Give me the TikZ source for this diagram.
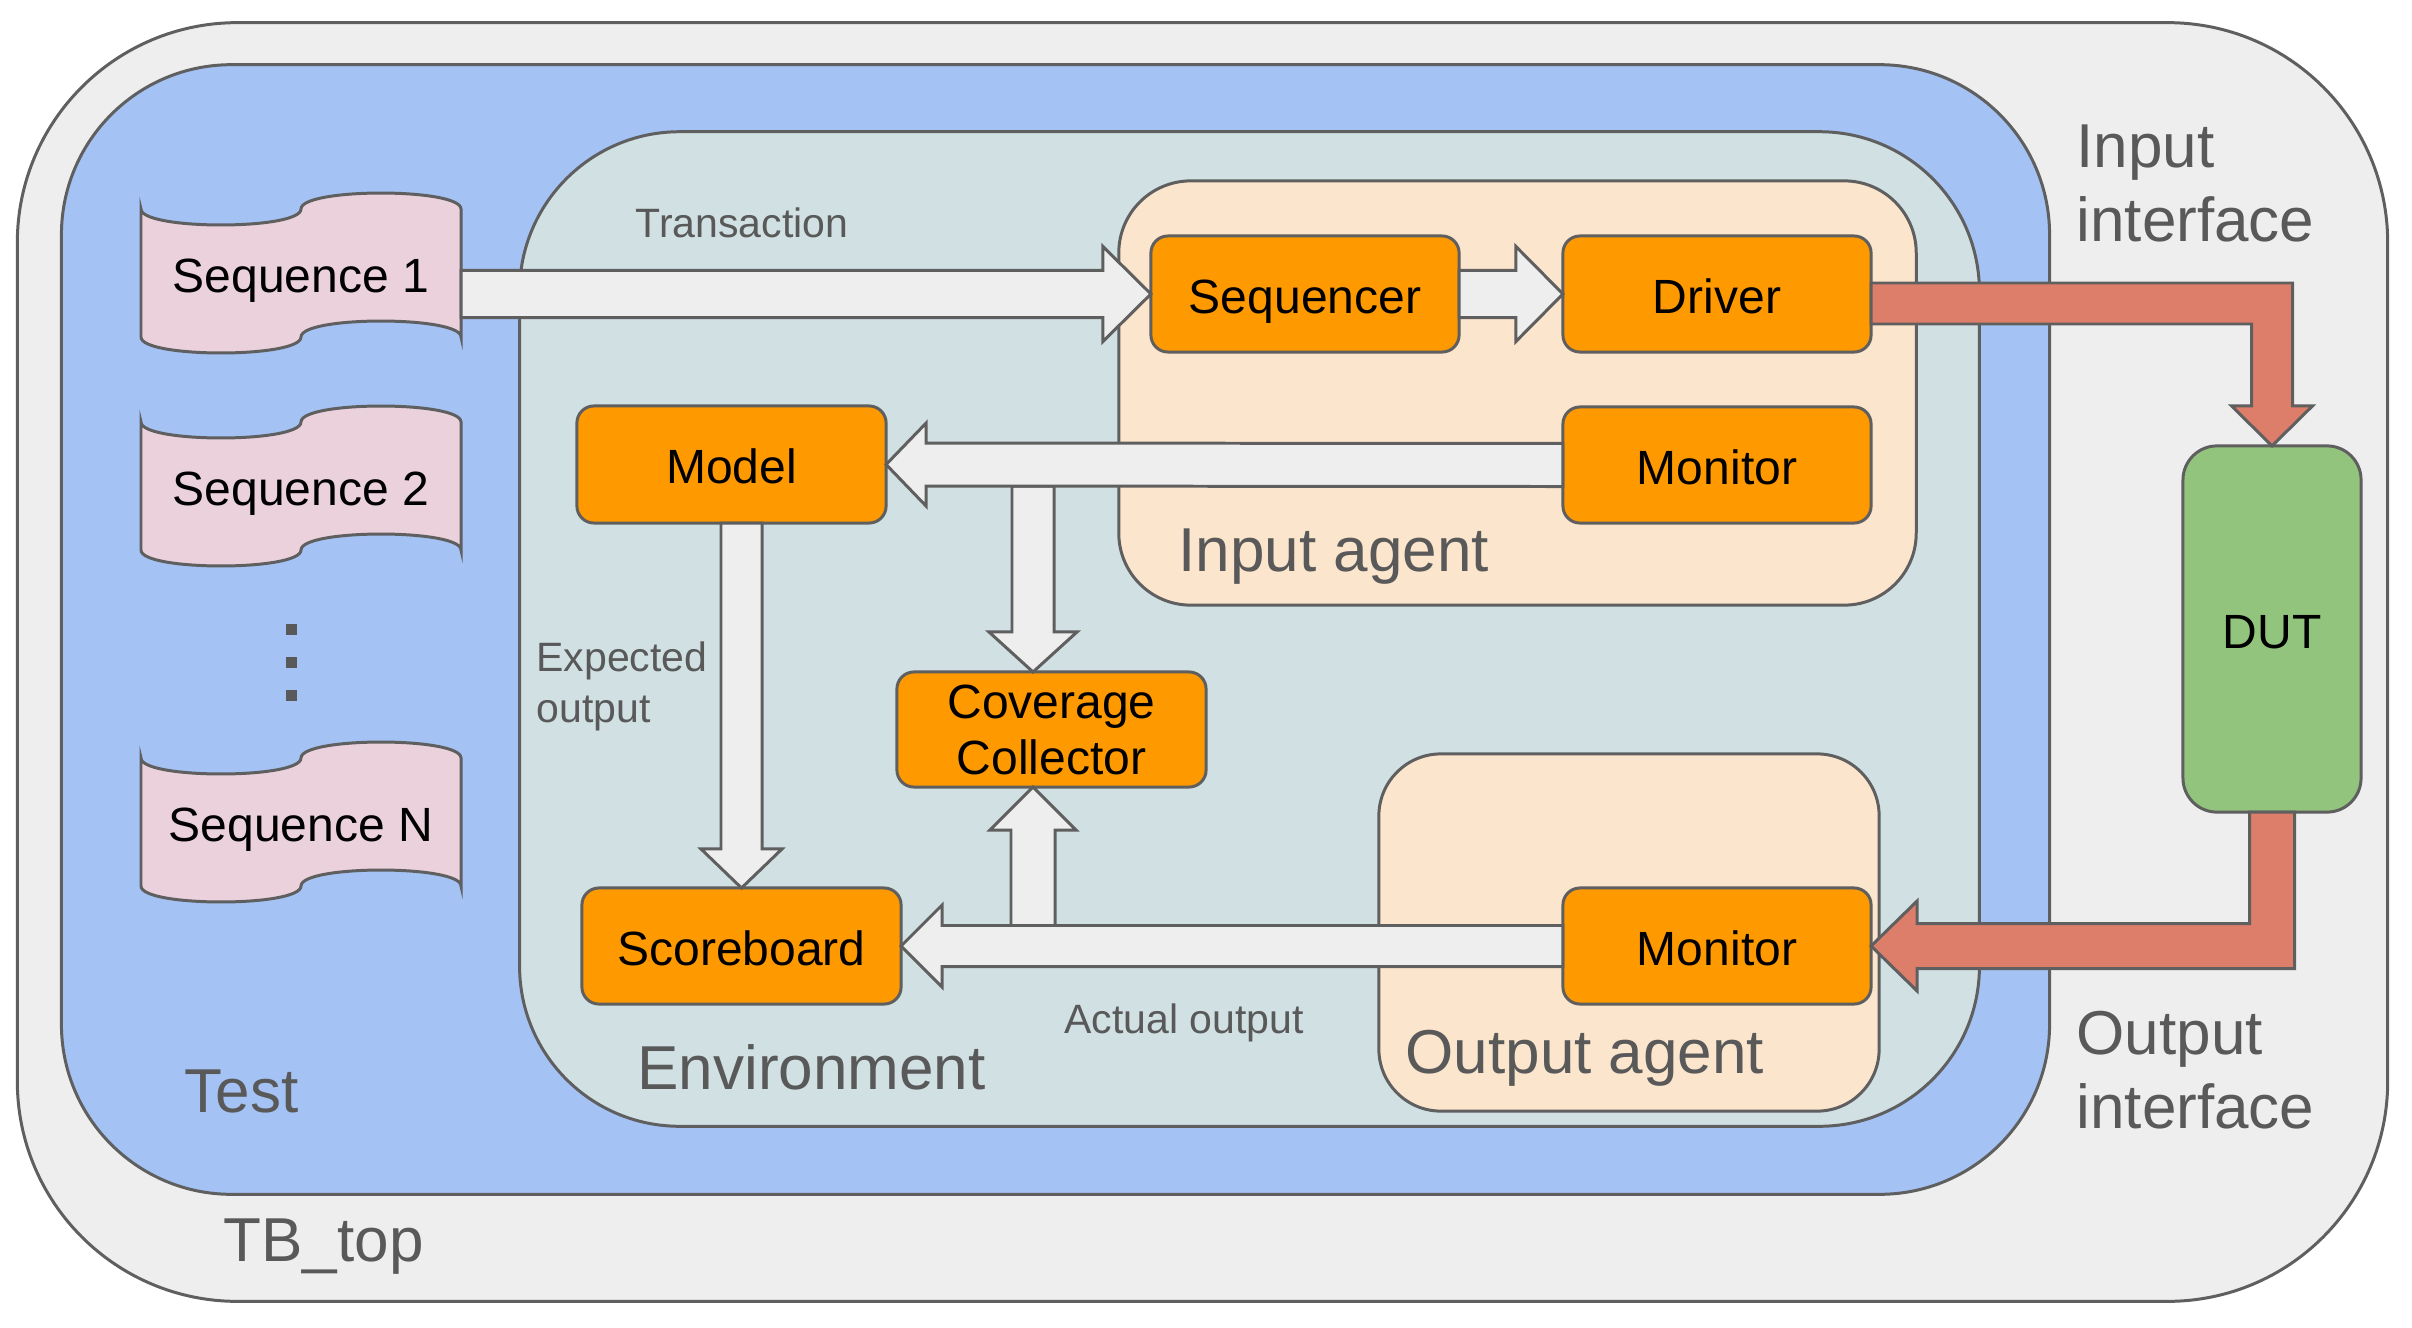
\documentclass[tikz,border=0pt]{standalone}
\usepackage{fontspec}
\setmainfont{Liberation Sans}
\usetikzlibrary{calc}
\definecolor{lc}{HTML}{5F5F5F}
\definecolor{tg}{HTML}{595959}
\definecolor{tbg}{HTML}{EEEEEE}
\definecolor{testc}{HTML}{A4C2F4}
\definecolor{envc}{HTML}{D0E0E3}
\definecolor{agc}{HTML}{FCE5CD}
\definecolor{orng}{HTML}{FF9900}
\definecolor{seqc}{HTML}{EAD1DC}
\definecolor{dutc}{HTML}{93C47D}
\definecolor{redc}{HTML}{DD7E6B}
\definecolor{arrg}{HTML}{EEEEEE}
\newcommand\fsml{\fontsize{11.66}{14.5}\selectfont}
\newcommand\fbx{\fontsize{13.66}{15.9}\selectfont}
\newcommand\fbg{\fontsize{17.64}{21.05}\selectfont}
% fat straight arrow: [style]{from}{to}{shaft half}{head half}{head length}
\newcommand\fatarrow[6][]{%
  \coordinate (fa-c) at ($(#3)!#6!(#2)$);
  \draw[#1] ($(#2)!#4!90:(#3)$) -- ($(fa-c)!#4!-90:(#2)$) -- ($(fa-c)!#5!-90:(#2)$) -- (#3)
    -- ($(fa-c)!#5!90:(#2)$) -- ($(fa-c)!#4!90:(#2)$) -- ($(#2)!#4!-90:(#3)$) -- cycle;}
\newcommand\seqtape[2]{%
  \begin{scope}[shift={(#1,#2)}]
  \draw[seqsty] (-160,-64) .. controls (-160,-42.7) and (0,-42.7) .. (0,-64)
     .. controls (0,-85.3) and (160,-85.3) .. (160,-64) -- (160,64)
     .. controls (160,42.7) and (0,42.7) .. (0,64)
     .. controls (0,85.3) and (-160,85.3) .. (-160,64) -- cycle;
  \end{scope}}
\begin{document}
\begin{tikzpicture}[x=0.01cm,y=-0.01cm, line width=0.85pt,
  cont/.style={draw=lc, inner sep=0pt, outer sep=0pt},
  box/.style={draw=lc, fill=orng, rounded corners=0.17cm, inner sep=0pt, outer sep=0pt,
     minimum width=3.08cm, minimum height=1.16cm, font=\fbx},
  boxt/.style={box, text height=0.38cm, text depth=0pt},
  garrow/.style={draw=lc, fill=arrg, line join=miter},
  rarrow/.style={draw=lc, fill=redc, line join=miter},
  lbl/.style={text=tg, inner sep=0pt, anchor=base west},
  seqsty/.style={draw=lc, fill=seqc},
  seqtext/.style={inner sep=0pt, outer sep=0pt, minimum width=3.2cm, minimum height=1.28cm,
     font=\fbx, text height=0.38cm, text depth=0pt}]
\useasboundingbox (0,0) rectangle (2412,1327);
% containers
\node[cont, fill=tbg, rounded corners=2.2cm, minimum width=23.69cm, minimum height=12.78cm] (tbtop) at (1202.5,662) {};
\node[cont, fill=testc, rounded corners=1.7cm, minimum width=19.87cm, minimum height=11.29cm] (test) at (1055.5,629.5) {};
\node[cont, fill=envc, rounded corners=1.6cm, minimum width=14.59cm, minimum height=9.94cm] (env) at (1249.5,629) {};
\node[cont, fill=agc, rounded corners=0.72cm, minimum width=7.97cm, minimum height=4.24cm] (inag) at (1517.5,393) {};
\node[cont, fill=agc, rounded corners=0.62cm, minimum width=5.0cm, minimum height=3.57cm] (outag) at (1629,932.5) {};
% sequences
\seqtape{301}{273}
\node[seqtext] (seq1) at (301,273) {Sequence 1};
\seqtape{301}{486}
\node[seqtext] (seq2) at (301,486) {Sequence 2};
\seqtape{301}{822}
\node[seqtext] (seqn) at (301,822) {Sequence N};
\foreach \yy in {629,662,695} \fill[tg] (285.5,\yy-5.5) rectangle (296.5,\yy+5.5);
% blocks
\node[boxt] (seqr) at (1305,294) {Sequencer};
\node[boxt] (drv) at (1717,294) {Driver};
\node[boxt] (monin) at (1717,465) {Monitor};
\node[boxt, minimum width=3.09cm, minimum height=1.17cm] (model) at (731.5,464.5) {Model};
\node[box, minimum width=3.09cm, minimum height=1.15cm, align=center] (cov) at (1051.5,729.5) {Coverage\\Collector};
\node[boxt, minimum width=3.19cm] (score) at (741.5,946) {Scoreboard};
\node[boxt] (monout) at (1717,946) {Monitor};
\node[draw=lc, fill=dutc, rounded corners=0.34cm, inner sep=0pt, outer sep=0pt, minimum width=1.78cm,
  minimum height=3.66cm, font=\fbx, text height=0.38cm, text depth=0pt] (dut) at (2272,629) {DUT};
% gray arrows
\coordinate (ta) at (seq1.east |- seqr.west);
\fatarrow[garrow]{ta}{seqr.west}{0.235cm}{0.475cm}{0.48cm}
\fatarrow[garrow]{seqr.east}{drv.west}{0.235cm}{0.475cm}{0.47cm}
\coordinate (cvt) at ($(cov.north)+(-18.5,0)$);
\coordinate (cva) at ($(cvt |- model.east)+(0,21.5)$);
\fatarrow[garrow]{cva}{cvt}{0.21cm}{0.44cm}{0.40cm}
\coordinate (cvb) at ($(cov.south)+(-18.5,0)$);
\coordinate (cvc) at ($(cvb |- score.east)+(0,-20.5)$);
\fatarrow[garrow]{cvc}{cvb}{0.22cm}{0.43cm}{0.43cm}
\fatarrow[garrow]{monin.west}{model.east}{0.215cm}{0.415cm}{0.40cm}
\coordinate (ma) at (score.north |- model.south);
\fatarrow[garrow]{ma}{score.north}{0.205cm}{0.405cm}{0.39cm}
\fatarrow[garrow]{monout.west}{score.east}{0.205cm}{0.41cm}{0.41cm}
% red arrows
\coordinate (r1) at ($(drv.east)+(0,-11)$);
\coordinate (r3) at ($(drv.east)+(0,30)$);
\coordinate (r2) at ($(dut.north)+(20.5,0)$);
\coordinate (r4) at ($(dut.north)+(-20.5,0)$);
\draw[rarrow] (r1) -- (r2 |- r1) -- ($(r2)+(0,-40)$) -- ($(dut.north)+(40.5,-40)$) -- (dut.north)
  -- ($(dut.north)+(-40.5,-40)$) -- ($(r4)+(0,-40)$) -- (r4 |- r3) -- (r3) -- cycle;
\coordinate (o1) at ($(dut.south)+(-22.5,0)$);
\coordinate (o2) at ($(dut.south)+(22.5,0)$);
\coordinate (o3) at ($(monout.east)+(0,-22.5)$);
\coordinate (o4) at ($(monout.east)+(0,22.5)$);
\draw[rarrow] (o1) -- (o1 |- o3) -- ($(o3)+(46,0)$) -- ($(monout.east)+(46,-45)$) -- (monout.east)
  -- ($(monout.east)+(46,45)$) -- ($(o4)+(46,0)$) -- (o2 |- o4) -- (o2) -- cycle;
% labels
\node[lbl, font=\fsml] (trl) at (634,237) {Transaction};
\node[lbl, font=\fsml, anchor=west, align=left] (expl) at (535,686) {Expected\\output};
\node[lbl, font=\fsml] (actl) at (1063,1033) {Actual output};
\node[lbl, font=\fbg] (inagl) at (1177,571) {Input agent};
\node[lbl, font=\fbg] (outagl) at (1404,1073) {Output agent};
\node[lbl, font=\fbg] (envl) at (636,1089) {Environment};
\node[lbl, font=\fbg] (testl) at (183,1112) {Test};
\node[lbl, font=\fbg] (tbl) at (222,1261) {TB\_top};
\node[lbl, font=\fbg, anchor=west, align=left] (inifl) at (2075,183) {Input\\interface};
\node[lbl, font=\fbg, anchor=west, align=left] (outifl) at (2075,1070) {Output\\interface};
\end{tikzpicture}
\end{document}
